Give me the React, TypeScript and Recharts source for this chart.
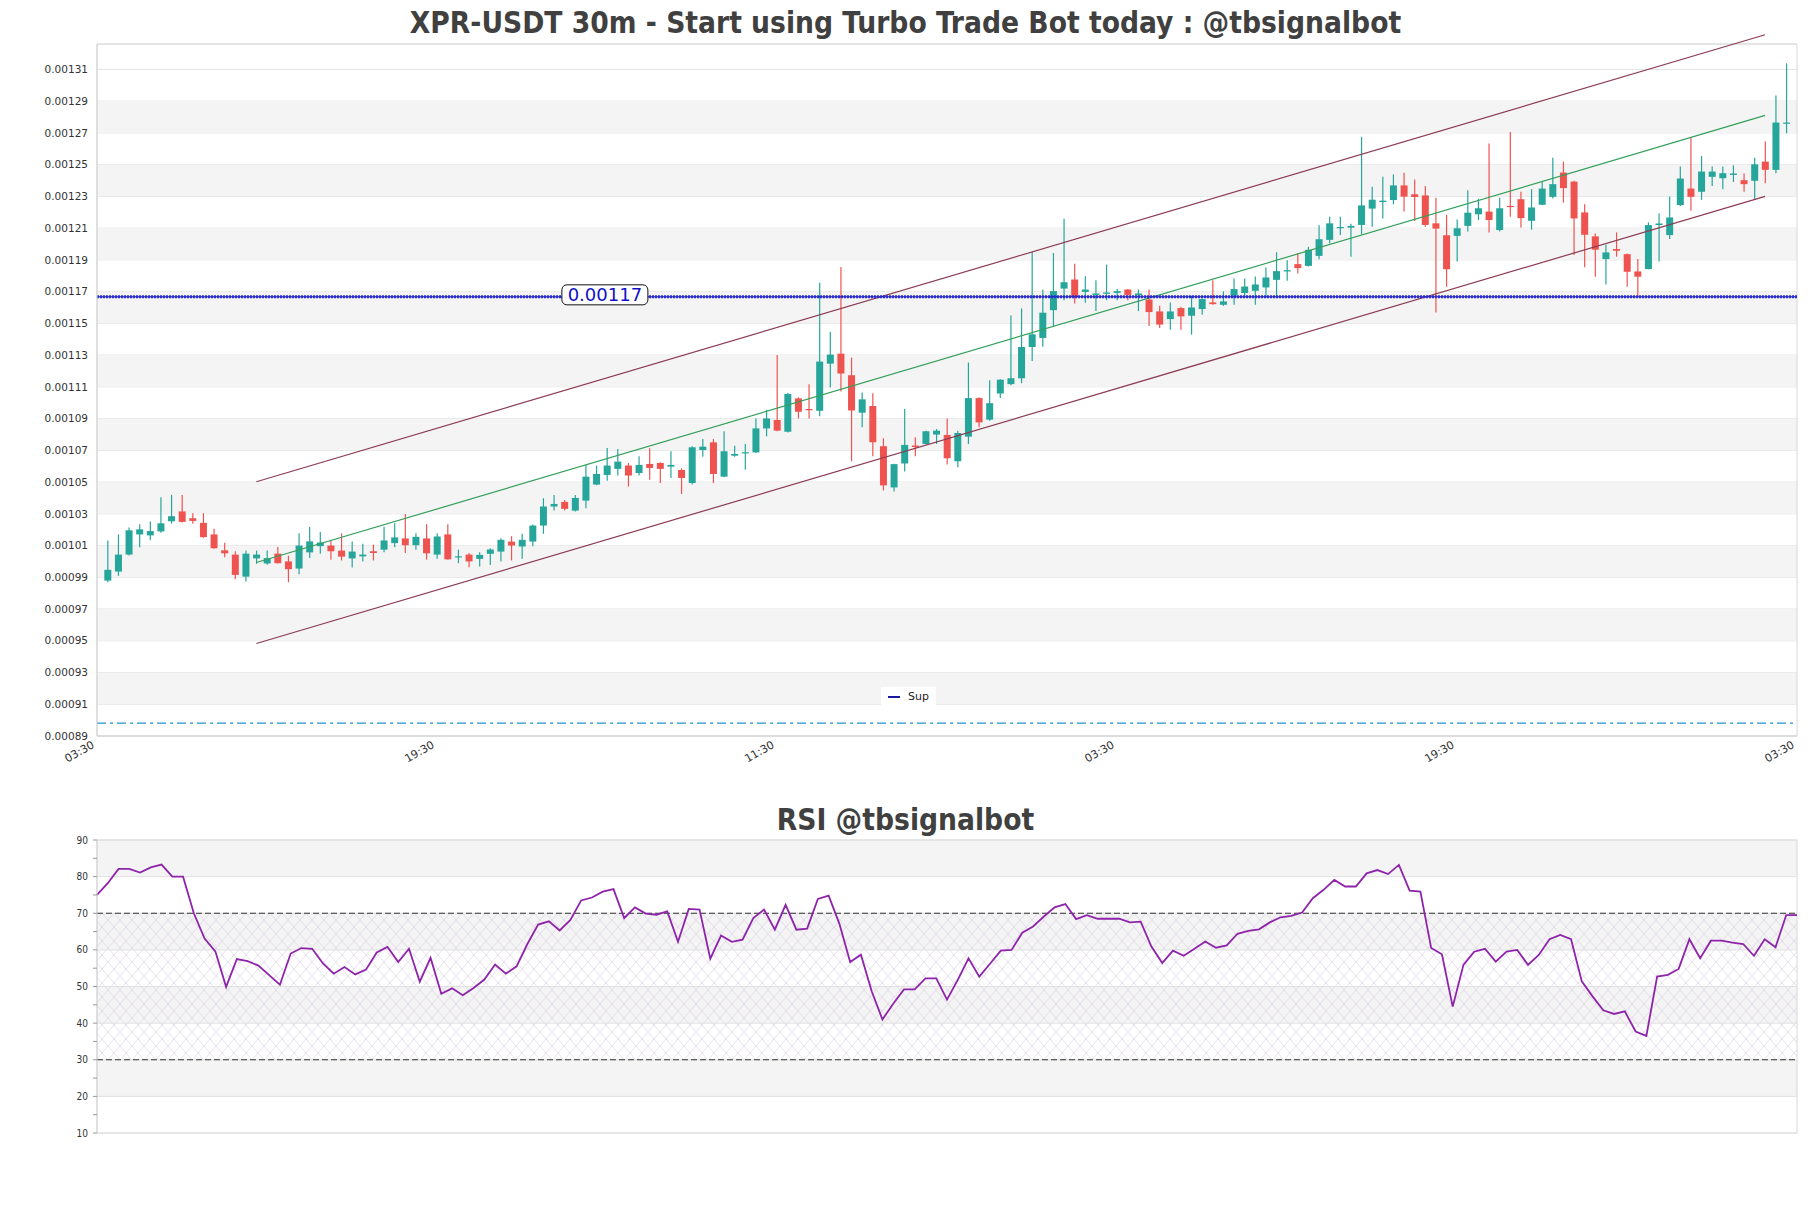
import React from 'react';
import {
  ComposedChart,
  Bar,
  Line,
  XAxis,
  YAxis,
  CartesianGrid,
  ReferenceLine,
  ReferenceArea,
  ReferenceDot,
  Legend,
} from 'recharts';

const TITLE = 'XPR-USDT 30m - Start using Turbo Trade Bot today : @tbsignalbot';
const RSI_TITLE = 'RSI @tbsignalbot';

// prices below are in units of 0.00001 USDT
const OPEN = [
  98.79, 99.36, 100.43, 101.7, 101.64, 101.89, 102.53, 103.15, 102.72, 102.43,
  101.7, 100.7, 100.43, 99.04, 100.19, 99.87, 100.49, 100.0, 99.55, 100.57,
  100.96, 101.0, 100.68, 100.19, 100.32, 100.64, 100.74, 101.15, 101.45, 101.02,
  101.45, 100.43, 101.7, 100.26, 100.43, 100.16, 100.48, 100.62, 101.25, 100.94,
  101.25, 102.26, 103.46, 103.75, 103.2, 103.83, 104.84, 105.45, 105.83, 106.04,
  105.57, 106.14, 106.2, 105.97, 105.76, 104.94, 107.02, 107.5, 105.34, 106.66,
  106.83, 106.87, 108.38, 108.91, 108.17, 110.27, 109.6, 109.49, 112.46, 113.09,
  111.73, 109.37, 109.79, 107.26, 104.66, 106.17, 107.3, 107.4, 107.99, 107.97,
  106.31, 107.86, 110.29, 108.93, 110.58, 111.17, 111.54, 113.51, 114.08, 115.83,
  117.19, 117.76, 116.98, 116.79, 116.86, 116.92, 117.13, 116.77, 116.5, 115.75,
  115.27, 115.96, 115.48, 115.9, 116.32, 116.17, 116.74, 116.91, 117.05, 117.26,
  117.74, 118.27, 118.73, 118.62, 119.25, 120.26, 120.99, 121.03, 121.2, 122.23,
  122.64, 122.77, 123.69, 123.13, 123.06, 121.3, 120.55, 120.51, 121.14, 121.87,
  122.04, 120.88, 122.4, 122.82, 121.46, 122.47, 122.97, 124.5, 123.93, 121.99,
  120.48, 119.05, 119.68, 119.36, 118.27, 118.42, 121.19, 120.56, 122.45, 123.49,
  123.29, 124.23, 124.14, 124.35, 124.02, 123.98, 125.19, 124.67, 127.58,
];
const HIGH = [
  101.32, 101.7, 102.13, 102.34, 102.51, 104.04, 104.19, 104.19, 103.04, 103.04,
  102.06, 101.17, 100.64, 100.68, 100.68, 100.68, 100.91, 100.36, 101.77, 102.17,
  101.85, 101.28, 101.77, 101.26, 101.11, 101.06, 102.19, 102.4, 102.98, 101.77,
  102.34, 101.77, 102.34, 100.74, 100.53, 100.58, 100.83, 101.46, 101.59, 101.74,
  102.32, 103.98, 104.19, 103.87, 104.19, 106.08, 106.04, 107.15, 107.08, 106.2,
  106.62, 107.13, 106.25, 106.94, 105.87, 107.25, 107.71, 107.71, 108.2, 107.29,
  107.4, 109.01, 109.56, 113.0, 110.61, 110.34, 111.17, 117.55, 114.47, 118.55,
  112.84, 110.64, 110.6, 107.76, 106.15, 109.6, 107.82, 108.24, 108.34, 109.01,
  108.24, 112.53, 110.35, 111.42, 111.48, 115.5, 115.94, 119.49, 117.13, 119.43,
  121.59, 118.76, 117.97, 117.72, 118.7, 117.17, 117.17, 117.13, 117.13, 116.11,
  116.32, 116.05, 116.74, 116.57, 117.72, 117.01, 117.83, 117.83, 117.95, 118.52,
  119.48, 118.98, 119.4, 119.82, 121.18, 121.72, 121.72, 121.28, 126.75, 123.61,
  124.24, 124.38, 124.49, 124.07, 123.65, 122.92, 121.83, 121.55, 123.38, 122.85,
  126.33, 122.92, 127.06, 123.29, 123.45, 123.91, 125.44, 125.19, 123.98, 122.51,
  120.66, 119.95, 120.73, 119.4, 119.05, 121.36, 121.92, 122.99, 124.88, 126.74,
  125.55, 124.88, 124.88, 124.96, 124.44, 125.44, 126.45, 129.36, 131.38,
];
const LOW = [
  98.68, 99.09, 100.38, 100.89, 101.34, 101.81, 102.38, 102.45, 102.38, 101.49,
  100.79, 100.26, 98.87, 98.74, 99.85, 99.79, 99.87, 98.68, 99.19, 100.21,
  100.49, 100.11, 100.06, 99.62, 100.0, 100.06, 100.57, 100.89, 100.53, 100.74,
  100.11, 100.17, 100.11, 99.89, 99.64, 99.68, 99.78, 99.99, 100.06, 100.16,
  100.96, 101.74, 103.2, 103.2, 103.15, 103.35, 104.8, 105.09, 105.41, 104.71,
  105.41, 105.15, 104.94, 105.26, 104.25, 104.84, 106.6, 104.94, 105.3, 106.6,
  105.78, 106.83, 107.88, 108.2, 108.13, 109.01, 109.01, 109.14, 110.96, 110.71,
  106.31, 108.45, 106.63, 104.47, 104.41, 105.67, 106.63, 107.36, 107.4, 106.1,
  105.94, 107.4, 108.45, 108.87, 110.29, 111.1, 111.23, 112.63, 113.53, 114.79,
  116.46, 116.25, 116.29, 115.77, 116.46, 116.46, 116.46, 115.77, 114.83, 114.71,
  114.6, 114.6, 114.29, 115.54, 116.17, 116.1, 116.17, 116.74, 116.17, 116.63,
  116.59, 117.68, 118.14, 118.58, 119.04, 120.03, 120.57, 119.19, 120.61, 121.09,
  121.6, 122.5, 122.04, 121.45, 121.09, 115.69, 117.3, 118.9, 120.78, 121.51,
  120.72, 120.78, 121.71, 121.04, 120.9, 122.45, 122.87, 122.61, 119.3, 118.53,
  117.94, 117.44, 119.2, 117.31, 116.7, 118.4, 118.9, 120.31, 122.4, 122.09,
  122.78, 123.66, 123.45, 123.91, 123.29, 122.82, 123.83, 124.46, 126.97,
];
const CLOSE = [
  99.47, 100.43, 101.96, 102.02, 101.91, 102.4, 102.85, 102.49, 102.55, 101.53,
  100.83, 100.51, 99.15, 100.49, 100.43, 100.21, 99.89, 99.51, 101.0, 101.26,
  101.19, 100.64, 100.3, 100.62, 100.43, 100.53, 101.32, 101.51, 101.02, 101.55,
  100.51, 101.57, 100.13, 100.32, 100.0, 100.41, 100.75, 101.36, 101.0, 101.36,
  102.26, 103.46, 103.62, 103.31, 104.0, 105.34, 105.51, 106.04, 106.29, 105.41,
  106.08, 105.89, 105.83, 106.08, 105.26, 107.19, 107.23, 105.51, 106.94, 106.77,
  106.88, 108.38, 109.01, 108.24, 110.55, 109.43, 109.54, 112.59, 113.03, 111.84,
  109.51, 110.21, 107.51, 104.79, 106.13, 107.34, 107.21, 108.2, 108.24, 106.5,
  108.09, 110.29, 108.76, 109.97, 111.45, 111.54, 113.51, 114.31, 115.67, 117.03,
  117.59, 116.67, 117.13, 116.88, 116.94, 117.03, 116.79, 116.88, 115.71, 114.92,
  115.75, 115.44, 116.0, 116.53, 116.21, 116.38, 117.16, 117.32, 117.45, 117.89,
  118.29, 118.35, 118.48, 119.63, 120.3, 121.3, 121.07, 121.14, 122.43, 122.79,
  122.73, 123.69, 122.98, 122.96, 121.2, 120.97, 118.41, 120.99, 121.97, 122.25,
  121.51, 122.25, 122.34, 121.63, 122.3, 123.49, 123.77, 123.52, 121.61, 120.58,
  119.64, 119.47, 119.57, 118.25, 117.94, 121.19, 121.29, 121.67, 124.12, 122.97,
  124.56, 124.56, 124.46, 124.44, 123.77, 125.02, 124.67, 127.65, 127.65,
];

const RSI = [
  75.0, 78.2, 82.1, 82.1, 81.1, 82.5, 83.3, 80.0, 80.0, 70.0,
  63.1, 59.6, 49.9, 57.5, 56.9, 55.7, 53.1, 50.5, 59.0, 60.5,
  60.3, 56.3, 53.5, 55.3, 53.3, 54.6, 59.3, 60.8, 56.7, 60.3,
  51.3, 57.8, 48.0, 49.5, 47.6, 49.6, 51.9, 56.0, 53.5, 55.5,
  61.6, 66.9, 67.8, 65.3, 68.2, 73.5, 74.3, 75.9, 76.6, 68.7,
  71.6, 69.9, 69.6, 70.5, 62.2, 71.2, 71.0, 57.6, 63.9, 62.2,
  62.8, 68.7, 71.0, 65.5, 72.3, 65.5, 65.8, 73.9, 74.8, 67.1,
  56.7, 58.7, 48.7, 41.0, 45.3, 49.2, 49.2, 52.2, 52.2, 46.4,
  51.8, 57.7, 52.7, 56.2, 59.8, 60.0, 64.7, 66.4, 69.1, 71.6,
  72.5, 68.4, 69.5, 68.5, 68.5, 68.5, 67.5, 67.7, 60.9, 56.4,
  59.8, 58.4, 60.3, 62.3, 60.6, 61.2, 64.4, 65.2, 65.6, 67.5,
  68.9, 69.3, 70.2, 74.1, 76.4, 79.1, 77.3, 77.3, 80.9, 81.8,
  80.7, 83.2, 76.2, 75.9, 60.5, 58.8, 44.5, 55.9, 59.5, 60.3,
  56.8, 59.5, 60.0, 55.9, 58.6, 62.9, 64.1, 62.9, 51.4, 47.3,
  43.5, 42.5, 43.2, 37.7, 36.5, 52.7, 53.2, 54.8, 62.9, 57.7,
  62.5, 62.5, 62.0, 61.6, 58.4, 62.9, 60.7, 69.5, 69.5,
];

const TIME_TICKS = [0, 32, 64, 96, 128, 160];
const TIME_LABELS = ['03:30', '19:30', '11:30', '03:30', '19:30', '03:30'];
const PRICE_TICKS = [89, 91, 93, 95, 97, 99, 101, 103, 105, 107, 109, 111, 113, 115, 117, 119, 121, 123, 125, 127, 129, 131];
const PRICE_BANDS = [[127, 129], [123, 125], [119, 121], [115, 117], [111, 113], [107, 109], [103, 105], [99, 101], [95, 97], [91, 93]];
const PRICE_DOMAIN = [89, 132.6];

const SUP_LEVEL = 116.67;
const SUP_LABEL_AT = 47.8;
const LOWER_DASH = 89.81;
const CHANNEL_X = [15, 157];
const CHANNEL_UPPER = [105.02, 133.18];
const CHANNEL_MID = [99.93, 128.1];
const CHANNEL_LOWER = [94.83, 123.0];

const RSI_TICKS = [10, 15, 20, 25, 30, 35, 40, 45, 50, 55, 60, 65, 70, 75, 80, 85, 90];
const RSI_GRID = [10, 20, 30, 40, 50, 60, 70, 80, 90];
const RSI_BANDS = [[80, 90], [60, 70], [40, 50], [20, 30]];
const RSI_LEVELS = [70, 30];

const UP = '#26a69a';
const DOWN = '#ef5350';
const UNIT = 1e5;

const candles = OPEN.map((o, i) => ({
  x: i + 1,
  open: o,
  high: HIGH[i],
  low: LOW[i],
  close: CLOSE[i],
  range: [LOW[i], HIGH[i]],
}));

const rsiData = RSI.map((v, i) => ({ i, rsi: v }));

const fmtPrice = (v: number) => (v / UNIT).toFixed(5);

function Candle(props: any) {
  const { x, y, width, height, payload } = props;
  if (!payload || height == null) return null;
  const { open, close, high, low } = payload;
  const color = close >= open ? UP : DOWN;
  const top = Math.min(y, y + height);
  const span = Math.abs(height);
  const ratio = span / (high - low);
  const cx = x + width / 2;
  const yO = top + (high - open) * ratio;
  const yC = top + (high - close) * ratio;
  const bodyTop = Math.min(yO, yC);
  const bodyH = Math.max(Math.abs(yO - yC), 1.2);
  return (
    <g>
      <line x1={cx} x2={cx} y1={top} y2={top + span} stroke={color} strokeWidth={1.2} />
      <rect x={cx - 3.5} y={bodyTop} width={7} height={bodyH} fill={color} />
    </g>
  );
}

function SupLabel(props: any) {
  const { cx, cy } = props;
  return (
    <g>
      <rect x={cx - 43} y={cy - 12} width={86} height={20} rx={5} ry={5} fill="#fff" stroke="#111" strokeWidth={1} />
      <text x={cx} y={cy + 4} textAnchor="middle" fontSize={18} fill="#1010c8" fontFamily="DejaVu Sans">
        {fmtPrice(SUP_LEVEL)}
      </text>
    </g>
  );
}

function TimeTick(props: any) {
  const { x, y, payload } = props;
  const label = TIME_LABELS[TIME_TICKS.indexOf(payload.value)] ?? '';
  const ax = x - 2;
  const ay = y + 11;
  return (
    <text x={ax} y={ay} transform={`rotate(-30 ${ax} ${ay})`} textAnchor="end" fontSize={11} fill="#333" fontFamily="DejaVu Sans">
      {label}
    </text>
  );
}

function RsiTick(props: any) {
  const { x, y, payload } = props;
  if (payload.value % 10 !== 0) return <g />;
  return (
    <text x={x} y={y + 3.5} textAnchor="end" fontSize={10} fill="#333" fontFamily="'DejaVu Sans Condensed', 'DejaVu Sans'" style={{ fontStretch: 'condensed' }}>
      {payload.value}
    </text>
  );
}

function SupLegend() {
  return (
    <div
      style={{
        background: '#fff',
        padding: '3px 7px',
        display: 'flex',
        alignItems: 'center',
        gap: 8,
        fontSize: 11,
        lineHeight: '13px',
        fontFamily: 'DejaVu Sans',
        color: '#222',
      }}
    >
      <span style={{ display: 'inline-block', width: 12, height: 2, background: '#1a1aa0' }} />
      Sup
    </div>
  );
}

const titleStyle: React.CSSProperties = {
  position: 'absolute',
  left: 0,
  width: 1811,
  textAlign: 'center',
  fontFamily: "'DejaVu Sans Condensed', 'DejaVu Sans', sans-serif",
  fontStretch: 'condensed',
  fontWeight: 'bold',
  fontSize: 29.6,
  lineHeight: '34px',
  color: '#404040',
};

export default function App() {
  return (
    <div style={{ position: 'absolute', left: 0, top: 0, width: 1811, height: 1208, background: '#fff' }}>
      <div style={{ ...titleStyle, top: 6 }}>{TITLE}</div>
      <div style={{ position: 'absolute', left: 0, top: 0 }}>
        <ComposedChart width={1811} height={790} data={candles} margin={{ top: 44, right: 14, bottom: 0, left: 0 }}>
          {PRICE_BANDS.map(([a, b]) => (
            <ReferenceArea key={a} y1={a} y2={b} fill="#f4f4f4" fillOpacity={1} stroke="none" />
          ))}
          <CartesianGrid vertical={false} stroke="#e2e2e2" />
          <XAxis
            type="number"
            dataKey="x"
            domain={[0, 160]}
            ticks={TIME_TICKS}
            interval={0}
            tick={<TimeTick />}
            tickLine={false}
            tickSize={0}
            tickMargin={0}
            axisLine={{ stroke: '#d4d4d4' }}
            height={54}
            allowDataOverflow
          />
          <YAxis
            type="number"
            domain={PRICE_DOMAIN}
            ticks={PRICE_TICKS}
            interval={0}
            tickFormatter={fmtPrice}
            tick={{ fontSize: 10.5, fill: '#333', fontFamily: 'DejaVu Sans' }}
            tickLine={false}
            tickSize={0}
            tickMargin={9}
            axisLine={{ stroke: '#d4d4d4' }}
            width={97}
            allowDataOverflow
          />
          <ReferenceArea x1={0} x2={160} y1={PRICE_DOMAIN[0]} y2={PRICE_DOMAIN[1]} fill="none" stroke="#d8d8d8" />
          <ReferenceLine y={LOWER_DASH} stroke="#1f95d0" strokeWidth={1.2} strokeDasharray="9 4 3 4" />
          <Bar dataKey="range" barSize={7} shape={Candle} isAnimationActive={false} />
          <ReferenceLine
            segment={[{ x: CHANNEL_X[0], y: CHANNEL_UPPER[0] }, { x: CHANNEL_X[1], y: CHANNEL_UPPER[1] }]}
            stroke="#8c3b52"
            strokeWidth={1.2}
            ifOverflow="visible"
          />
          <ReferenceLine
            segment={[{ x: CHANNEL_X[0], y: CHANNEL_MID[0] }, { x: CHANNEL_X[1], y: CHANNEL_MID[1] }]}
            stroke="#33a05a"
            strokeWidth={1.2}
            ifOverflow="visible"
          />
          <ReferenceLine
            segment={[{ x: CHANNEL_X[0], y: CHANNEL_LOWER[0] }, { x: CHANNEL_X[1], y: CHANNEL_LOWER[1] }]}
            stroke="#8c3b52"
            strokeWidth={1.2}
            ifOverflow="visible"
          />
          <ReferenceLine y={SUP_LEVEL} stroke="#000080" strokeWidth={1} />
          <ReferenceLine y={SUP_LEVEL} stroke="#2b2bdb" strokeWidth={3} strokeDasharray="2 1" />
          <ReferenceDot x={SUP_LABEL_AT} y={SUP_LEVEL} shape={SupLabel} />
          <Legend
            layout="horizontal"
            verticalAlign="middle"
            align="center"
            wrapperStyle={{ left: 881, top: 687, width: 'auto' }}
            content={<SupLegend />}
          />
        </ComposedChart>
      </div>

      <div style={{ ...titleStyle, top: 803 }}>{RSI_TITLE}</div>
      <div style={{ position: 'absolute', left: 0, top: 780 }}>
        <ComposedChart width={1811} height={380} data={rsiData} margin={{ top: 60, right: 14, bottom: 27, left: 0 }}>
          <defs>
            <pattern id="rsiHatch" width="12" height="14" patternUnits="userSpaceOnUse">
              <path d="M0,0 L12,14 M12,0 L0,14" stroke="#d6cce0" strokeWidth={0.6} fill="none" />
            </pattern>
          </defs>
          <XAxis type="number" dataKey="i" domain={[0, 158]} hide />
          <YAxis
            type="number"
            domain={[10, 90]}
            ticks={RSI_TICKS}
            interval={0}
            tick={<RsiTick />}
            tickSize={4}
            tickMargin={5}
            tickLine={{ stroke: '#999' }}
            axisLine={{ stroke: '#d4d4d4' }}
            width={97}
            allowDataOverflow
          />
          {RSI_BANDS.map(([a, b]) => (
            <ReferenceArea key={a} y1={a} y2={b} fill="#f4f4f4" fillOpacity={1} stroke="none" />
          ))}
          <ReferenceArea y1={RSI_LEVELS[1]} y2={RSI_LEVELS[0]} fill="url(#rsiHatch)" fillOpacity={1} stroke="none" />
          {RSI_GRID.map((v) => (
            <ReferenceLine key={v} y={v} stroke="#e0e0e0" />
          ))}
          <ReferenceArea x1={0} x2={158} y1={10} y2={90} fill="none" stroke="#d8d8d8" />
          {RSI_LEVELS.map((v) => (
            <ReferenceLine key={`l${v}`} y={v} stroke="#333" strokeWidth={1.2} strokeDasharray="6 3" />
          ))}
          <Line type="linear" dataKey="rsi" stroke="#8e24aa" strokeWidth={1.8} dot={false} isAnimationActive={false} />
        </ComposedChart>
      </div>
    </div>
  );
}
